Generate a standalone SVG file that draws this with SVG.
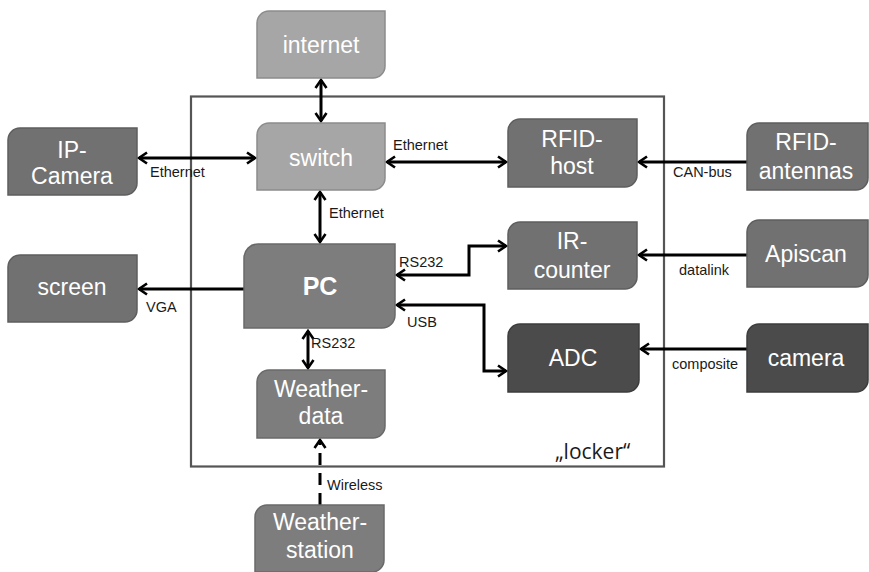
<svg xmlns="http://www.w3.org/2000/svg" width="869" height="572" viewBox="0 0 869 572">
<style>
.light{fill:#a6a6a6;stroke:#8c8c8c;stroke-width:1.5}
.mid{fill:#717171;stroke:#5e5e5e;stroke-width:1.5}
.mid2{fill:#7d7d7d;stroke:#696969;stroke-width:1.5}
.dark{fill:#4b4b4b;stroke:#3c3c3c;stroke-width:1.5}
.nt{font-family:"Liberation Sans",Arial,sans-serif;font-size:23px;fill:#ffffff;text-anchor:middle}
.pc{font-family:"Liberation Sans",Arial,sans-serif;font-size:25px;font-weight:bold;fill:#ffffff;text-anchor:middle}
.lb{font-family:"Liberation Sans",Arial,sans-serif;font-size:14.5px;fill:#1a1a1a}
.cn{fill:none;stroke:#000;stroke-width:3}
.dash{stroke-dasharray:12,8}
</style>
<defs>
<marker id="ah" viewBox="0 0 12 14" refX="10" refY="7" markerWidth="12" markerHeight="14" markerUnits="userSpaceOnUse" orient="auto-start-reverse">
<path d="M2,1.5 L10,7 L2,12.5" fill="none" stroke="#000" stroke-width="2.6"/>
</marker>
</defs>
<rect width="869" height="572" fill="#ffffff"/>

<g id="locker">
<rect x="191" y="96.5" width="473" height="370" fill="none" stroke="#555" stroke-width="2.2"/>
<text x="555" y="459" font-family="'Open Sans','Liberation Sans',sans-serif" font-size="21" fill="#1a1a1a">„locker“</text>
</g>

<g id="connectors">
<line class="cn" x1="321" y1="80" x2="321" y2="121" marker-start="url(#ah)" marker-end="url(#ah)"/>
<line class="cn" x1="139" y1="158" x2="255" y2="158" marker-start="url(#ah)" marker-end="url(#ah)"/>
<line class="cn" x1="387" y1="162" x2="506" y2="162" marker-start="url(#ah)" marker-end="url(#ah)"/>
<line class="cn" x1="320" y1="192" x2="320" y2="242" marker-start="url(#ah)" marker-end="url(#ah)"/>
<line class="cn" x1="747" y1="162" x2="639" y2="162" marker-end="url(#ah)"/>
<line class="cn" x1="747" y1="255" x2="639" y2="255" marker-end="url(#ah)"/>
<polyline class="cn" points="397,275 469,275 469,246 506,246" marker-start="url(#ah)" marker-end="url(#ah)"/>
<polyline class="cn" points="397,305 484,305 484,371 506,371" marker-start="url(#ah)" marker-end="url(#ah)"/>
<line class="cn" x1="747" y1="349" x2="641" y2="349" marker-end="url(#ah)"/>
<line class="cn" x1="244" y1="289" x2="139" y2="289" marker-end="url(#ah)"/>
<line class="cn" x1="308" y1="331" x2="308" y2="368" marker-start="url(#ah)" marker-end="url(#ah)"/>
<line class="cn dash" x1="320" y1="505" x2="320" y2="440" marker-end="url(#ah)"/>
<text class="lb" x="150" y="177">Ethernet</text>
<text class="lb" x="393" y="150">Ethernet</text>
<text class="lb" x="329" y="218">Ethernet</text>
<text class="lb" x="673" y="177">CAN-bus</text>
<text class="lb" x="679" y="275">datalink</text>
<text class="lb" x="399" y="267">RS232</text>
<text class="lb" x="407" y="327">USB</text>
<text class="lb" x="672" y="369">composite</text>
<text class="lb" x="146" y="312">VGA</text>
<text class="lb" x="311" y="348">RS232</text>
<text class="lb" x="327" y="490">Wireless</text>
</g>

<g id="internet">
<path class="light" d="M269,11 H385 V66 A12,12 0 0 1 373,78 H257 V23 A12,12 0 0 1 269,11 Z"/>
<text class="nt" x="321" y="53">internet</text>
</g>
<g id="switch">
<path class="light" d="M269,123 H385 V178 A12,12 0 0 1 373,190 H257 V135 A12,12 0 0 1 269,123 Z"/>
<text class="nt" x="321" y="166">switch</text>
</g>
<g id="ip-camera">
<path class="mid" d="M20,128 H137 V183 A12,12 0 0 1 125,195 H8 V140 A12,12 0 0 1 20,128 Z"/>
<text class="nt" x="72" y="158">IP-</text>
<text class="nt" x="72" y="184">Camera</text>
</g>
<g id="rfid-host">
<path class="mid" d="M520,119 H637 V175 A12,12 0 0 1 625,187 H508 V131 A12,12 0 0 1 520,119 Z"/>
<text class="nt" x="572" y="147">RFID-</text>
<text class="nt" x="572" y="174">host</text>
</g>
<g id="rfid-antennas">
<path class="mid" d="M759,123 H868 V178 A12,12 0 0 1 856,190 H747 V135 A12,12 0 0 1 759,123 Z"/>
<text class="nt" x="806" y="150">RFID-</text>
<text class="nt" x="806" y="179">antennas</text>
</g>
<g id="ir-counter">
<path class="mid" d="M520,222 H637 V277 A12,12 0 0 1 625,289 H508 V234 A12,12 0 0 1 520,222 Z"/>
<text class="nt" x="572" y="249">IR-</text>
<text class="nt" x="572" y="278">counter</text>
</g>
<g id="apiscan">
<path class="mid" d="M759,220 H868 V275 A12,12 0 0 1 856,287 H747 V232 A12,12 0 0 1 759,220 Z"/>
<text class="nt" x="806" y="262">Apiscan</text>
</g>
<g id="pc">
<path class="mid2" d="M258,244 H395 V315 A13,13 0 0 1 382,328 H244 V258 A14,14 0 0 1 258,244 Z"/>
<text class="pc" x="320" y="295">PC</text>
</g>
<g id="screen">
<path class="mid" d="M20,255 H137 V310 A12,12 0 0 1 125,322 H8 V267 A12,12 0 0 1 20,255 Z"/>
<text class="nt" x="72" y="295">screen</text>
</g>
<g id="weather-data">
<path class="mid2" d="M269,370 H385 V426 A12,12 0 0 1 373,438 H257 V382 A12,12 0 0 1 269,370 Z"/>
<text class="nt" x="321" y="397">Weather-</text>
<text class="nt" x="321" y="424">data</text>
</g>
<g id="weather-station">
<path class="mid2" d="M267,505 H384 V560 A12,12 0 0 1 372,572 H255 V517 A12,12 0 0 1 267,505 Z"/>
<text class="nt" x="320" y="530">Weather-</text>
<text class="nt" x="320" y="558">station</text>
</g>
<g id="adc">
<path class="dark" d="M520,324 H639 V380 A12,12 0 0 1 627,392 H508 V336 A12,12 0 0 1 520,324 Z"/>
<text class="nt" x="573" y="366">ADC</text>
</g>
<g id="camera">
<path class="dark" d="M759,324 H868 V380 A12,12 0 0 1 856,392 H747 V336 A12,12 0 0 1 759,324 Z"/>
<text class="nt" x="806" y="366">camera</text>
</g>
</svg>
